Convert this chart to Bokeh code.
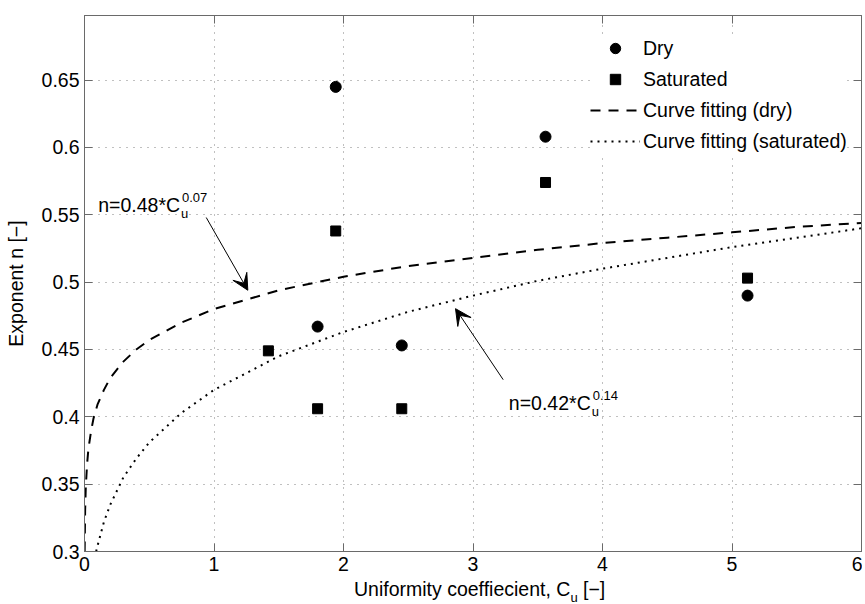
from bokeh.plotting import figure
from bokeh.models import (Range1d, FixedTicker, LinearAxis, Label, Arrow, VeeHead,
                          Legend, LegendItem, Div)
from bokeh.layouts import column
from bokeh.embed import file_html
from bokeh.resources import INLINE

FONT = "Liberation Sans"
FS = "19.5px"
FS_SMALL = "13px"

# ---- data ----
dry_cu = [1.94, 1.80, 2.45, 3.56, 5.12]
dry_n = [0.645, 0.467, 0.453, 0.608, 0.490]

sat_cu = [1.42, 1.80, 1.94, 2.45, 3.56, 5.12]
sat_n = [0.449, 0.406, 0.538, 0.406, 0.574, 0.503]

fit_dry_cu = [0.0012, 0.005, 0.01, 0.02, 0.03, 0.05, 0.07, 0.1, 0.15, 0.2, 0.3, 0.4,
              0.5, 0.75, 1.0, 1.5, 2.0, 2.5, 3.0, 3.5, 4.0, 4.5, 5.0, 5.5, 6.0]
fit_dry_n = [0.300, 0.331, 0.348, 0.365, 0.376, 0.389, 0.399, 0.409, 0.420, 0.429, 0.441, 0.450,
             0.457, 0.470, 0.480, 0.494, 0.504, 0.512, 0.518, 0.524, 0.529, 0.533, 0.537, 0.541, 0.544]

fit_sat_cu = [0.09, 0.1, 0.15, 0.2, 0.3, 0.4, 0.5, 0.75, 1.0, 1.5, 2.0, 2.5, 3.0,
              3.5, 4.0, 4.5, 5.0, 5.5, 6.0]
fit_sat_n = [0.300, 0.304, 0.322, 0.335, 0.355, 0.369, 0.381, 0.403, 0.420, 0.445, 0.463,
             0.478, 0.490, 0.501, 0.510, 0.518, 0.526, 0.533, 0.540]

x_ticks = [0, 1, 2, 3, 4, 5, 6]
y_ticks = [0.3, 0.35, 0.4, 0.45, 0.5, 0.55, 0.6, 0.65]
y_tick_labels = ["0.3", "0.35", "0.4", "0.45", "0.5", "0.55", "0.6", "0.65"]

legend_labels = ["Dry", "Saturated", "Curve fitting (dry)", "Curve fitting (saturated)"]

# ---- figure ----
p = figure(width=862, height=578, x_range=Range1d(0, 6), y_range=Range1d(0.3, 0.698),
           output_backend="svg", toolbar_location=None,
           min_border_left=84, min_border_right=1, min_border_top=15, min_border_bottom=27,
           background_fill_color="white", border_fill_color="white")
p.outline_line_color = "#6a6a6a"

# grid
for g in (p.xgrid, p.ygrid):
    g.grid_line_color = "#808080"
    g.grid_line_dash = "1 6"
    g.grid_line_width = 1
p.xgrid.ticker = FixedTicker(ticks=x_ticks)
p.ygrid.ticker = FixedTicker(ticks=y_ticks)

# axes
p.xaxis.ticker = FixedTicker(ticks=x_ticks)
p.yaxis.ticker = FixedTicker(ticks=y_ticks)
p.yaxis.major_label_overrides = {t: s for t, s in zip(y_ticks, y_tick_labels)}
for ax in (p.xaxis[0], p.yaxis[0]):
    ax.axis_line_color = "#6a6a6a"
    ax.major_tick_line_color = "#6a6a6a"
    ax.major_tick_in = 8
    ax.major_tick_out = 0
    ax.minor_tick_line_color = None
    ax.major_label_text_font = FONT
    ax.major_label_text_font_size = FS
    ax.major_label_text_color = "black"
    ax.major_label_standoff = 5

p.yaxis.axis_label = "Exponent n [\u2212]"
p.yaxis.axis_label_text_font = FONT
p.yaxis.axis_label_text_font_size = FS
p.yaxis.axis_label_text_font_style = "normal"
p.yaxis.axis_label_text_color = "black"
p.yaxis.axis_label_standoff = 12

# top and right axes (ticks only, MATLAB box style)
top_ax = LinearAxis(ticker=FixedTicker(ticks=x_ticks))
right_ax = LinearAxis(ticker=FixedTicker(ticks=y_ticks))
for ax in (top_ax, right_ax):
    ax.axis_line_color = "#6a6a6a"
    ax.major_tick_line_color = "#6a6a6a"
    ax.major_tick_in = 8
    ax.major_tick_out = 0
    ax.minor_tick_line_color = None
    ax.major_label_text_font_size = "1px"
    ax.major_label_text_color = None
    ax.major_label_standoff = 0
p.add_layout(top_ax, "above")
p.add_layout(right_ax, "right")

# ---- glyphs ----
r_fit_dry = p.line(fit_dry_cu, fit_dry_n, line_color="black", line_width=2, line_dash="10 8")
r_fit_sat = p.line(fit_sat_cu, fit_sat_n, line_color="black", line_width=2, line_dash="2 5")
r_dry = p.scatter(dry_cu, dry_n, marker="circle", size=11, fill_color="black", line_color="black")
r_sat = p.scatter(sat_cu, sat_n, marker="square", size=10, fill_color="black", line_color="black")

legend = Legend(items=[
    LegendItem(label=legend_labels[0], renderers=[r_dry]),
    LegendItem(label=legend_labels[1], renderers=[r_sat]),
    LegendItem(label=legend_labels[2], renderers=[r_fit_dry]),
    LegendItem(label=legend_labels[3], renderers=[r_fit_sat]),
], location=(506, 397))
legend.padding = 10
legend.spacing = 5
legend.glyph_width = 50
legend.glyph_height = 26
legend.label_height = 26
legend.label_standoff = 3
legend.label_text_font = FONT
legend.label_text_font_size = FS
legend.label_text_color = "black"
legend.border_line_color = None
legend.background_fill_color = "white"
legend.background_fill_alpha = 1
legend.margin = 0
p.add_layout(legend, "center")

# ---- annotations ----
def eq_label(x, y, main, sup):
    w = 81.8
    p.add_layout(Label(x=x, y=y, text=main, text_font=FONT, text_font_size=FS,
                       text_color="black", text_baseline="alphabetic", text_align="left"))
    p.add_layout(Label(x=x, y=y, x_offset=w + 2, y_offset=8, text=sup, text_font=FONT,
                       text_font_size=FS_SMALL, text_color="black",
                       text_baseline="alphabetic", text_align="left"))
    p.add_layout(Label(x=x, y=y, x_offset=w + 1, y_offset=-8, text="u", text_font=FONT,
                       text_font_size=FS_SMALL, text_color="black",
                       text_baseline="alphabetic", text_align="left"))

eq_label(0.106, 0.557, "n=0.48*C", "0.07")
eq_label(3.277, 0.410, "n=0.42*C", "0.14")

p.add_layout(Arrow(end=VeeHead(size=16, fill_color="black", line_color="black"),
                   x_start=0.94, y_start=0.548, x_end=1.261, y_end=0.494,
                   line_color="black", line_width=1))
p.add_layout(Arrow(end=VeeHead(size=16, fill_color="black", line_color="black"),
                   x_start=3.233, y_start=0.4276, x_end=2.865, y_end=0.4803,
                   line_color="black", line_width=1))

# x axis label with a real subscript, as HTML text under the plot
xlabel = Div(
    text='Uniformity coeffiecient, C<span style="font-size:13px;position:relative;top:6px;">u</span> [\u2212]',
    width=320, height=22, margin=(0, 0, 0, 354),
    styles={"font-family": FONT, "font-size": FS, "color": "black",
            "white-space": "nowrap", "line-height": "normal"})

layout = column(p, xlabel, spacing=0)

open("out.html", "w").write(file_html(layout, INLINE))
